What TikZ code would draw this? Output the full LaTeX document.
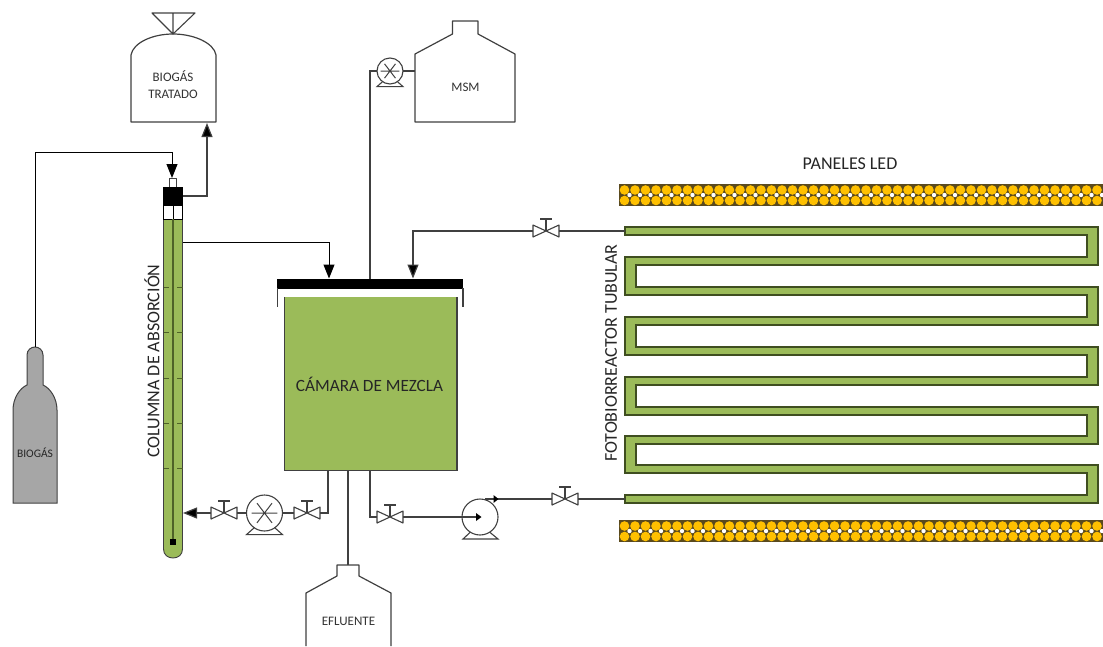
\documentclass[tikz,border=0pt]{standalone}
\usepackage{fontspec}
\setmainfont{Carlito}
\usetikzlibrary{arrows.meta}
\definecolor{algae}{HTML}{9BBB59}
\definecolor{algaedark}{HTML}{4F6228}
\definecolor{ledfill}{HTML}{FFC000}
\definecolor{leddark}{HTML}{5A4A1E}
\definecolor{linegray}{HTML}{404040}
\definecolor{cyl}{HTML}{A6A6A6}
\tikzset{
  x=1pt,y=-1pt,
  pipe/.style={draw=linegray,line width=1.2pt},
  feed/.style={draw=black,line width=1pt},
  tip/.style={-{Triangle[length=14pt,width=11pt,fill=black]}},
  equip/.style={draw=linegray,line width=1.2pt,fill=white,line join=round},
  lbl/.style={text=black!80,inner sep=0pt,font=\fontsize{13}{17}\selectfont,align=center},
  midlbl/.style={text=black!85,inner sep=0pt,font=\fontsize{18}{20}\selectfont},
  camlbl/.style={text=black!85,inner sep=0pt,font=\fontsize{17.2}{20}\selectfont},
  valvebox/.style={inner sep=0pt,minimum width=26pt,minimum height=12pt},
  valve/.pic={
    \draw[draw=linegray,line width=1.1pt,fill=white,line join=round]
      (-13,-6)--(13,6)--(13,-6)--(-13,6)--cycle;
    \draw[draw=linegray,line width=1.1pt] (0,0)--(0,-12) (-6,-12)--(6,-12);
  },
  fanpump/.pic={
    \draw[draw=linegray,line width=1.1pt] (0,0) circle[radius=\pumpr];
    \draw[draw=linegray,line width=1pt]
      (-0.72*\pumpr,0)--(0.72*\pumpr,0)
      (-0.42*\pumpr,-0.55*\pumpr)--(0.42*\pumpr,0.55*\pumpr)
      (-0.42*\pumpr,0.55*\pumpr)--(0.42*\pumpr,-0.55*\pumpr);
    \draw[draw=linegray,line width=1.1pt]
      (-0.55*\pumpr,0.8*\pumpr)--(-\pumpr,1.2*\pumpr)--(\pumpr,1.2*\pumpr)--(0.55*\pumpr,0.8*\pumpr);
  },
  ledbar/.pic={
    \fill[leddark] (0,0) rectangle (484,22);
    \foreach \i in {0,...,45}{
      \fill[white] ({10.5+10.5*\i},11) circle[radius=2.2];
      \fill[ledfill] ({5.5+10.5*\i},6) circle[radius=4.8];
      \fill[ledfill] ({5.5+10.5*\i},16.5) circle[radius=4.8];
    }
  }
}
\newcommand{\pumpr}{13}
\begin{document}
\begin{tikzpicture}
\useasboundingbox (0,0) rectangle (1103,646);

% ---------- photobioreactor serpentine
\coordinate (pbrtop) at (625,231);
\coordinate (pbrbot) at (625,499);
\path[fill=algae,draw=algaedark!80!black,line width=1.2pt,line join=miter]
  (625,227)--(1098,227)--(1098,265)--(636,265)--(636,287)--(1098,287)
  --(1098,325)--(636,325)--(636,347)--(1098,347)--(1098,385)--(636,385)
  --(636,407)--(1098,407)--(1098,444)--(636,444)--(636,465)--(1098,465)
  --(1098,503)--(625,503)--(625,495)--(1087,495)--(1087,473)--(625,473)
  --(625,436)--(1087,436)--(1087,415)--(625,415)--(625,377)--(1087,377)
  --(1087,355)--(625,355)--(625,317)--(1087,317)--(1087,295)--(625,295)
  --(625,257)--(1087,257)--(1087,235)--(625,235)--cycle;

% ---------- LED panels
\pic at (619,184) {ledbar};
\pic at (619,520) {ledbar};
\node[midlbl] (led) at (850,164) {PANELES LED};
\node[midlbl,rotate=90] (pbr) at (611,353) {FOTOBIORREACTOR TUBULAR};

% ---------- absorption column
\path[fill=algae,draw=linegray,line width=0.9pt] (163.5,219)--(163.5,549)
  .. controls (163.5,555) and (168,558) .. (173,558)
  .. controls (178,558) and (182.5,555) .. (182.5,549)--(182.5,219);
\draw[draw=black,line width=0.8pt,fill=white] (163.5,205) rectangle (182.5,219);
\draw[draw=algaedark,line width=1.3pt] (173,219)--(173,542);
\draw[draw=black,line width=0.8pt] (173,205)--(173,219);
\foreach \yy in {287,332,378,423,468}{
  \draw[draw=algaedark,line width=0.8pt] (163.5,\yy)--(169,\yy) (177,\yy)--(182.5,\yy);
}
\fill[black] (170,539) rectangle (176,545);
\draw[equip,line width=1pt] (169,178) rectangle (176,187);
\node[fill=black,inner sep=0pt,minimum width=20pt,minimum height=18pt] (colhead) at (173,196) {};
\coordinate (colin) at (172,178);
\coordinate (colout) at (183,242);
\coordinate (colret) at (183,513);
\node[midlbl,rotate=90] (collbl) at (152,361) {COLUMNA DE ABSORCIÓN};

% ---------- biogas cylinder
\path[draw=linegray,line width=1pt,fill=cyl]
  (13,503)--(13,410) .. controls (13,398) and (20,388) .. (27,385)
  --(27,355) .. controls (27,350) and (31,347) .. (35,347)
  .. controls (39,347) and (43,350) .. (43,355)--(43,385)
  .. controls (50,388) and (57,398) .. (57,410)--(57,503)--cycle;
\coordinate (cyltop) at (35,347);
\node[text=black!85,inner sep=0pt,font=\fontsize{11.5}{12}\selectfont] (biogas) at (35,453) {BIOGÁS};

% ---------- treated biogas tank
\path[equip] (131,122)--(131,55) .. controls (133,43) and (152,34) .. (173,34)
  .. controls (194,34) and (214,43) .. (216,55)--(216,122)--cycle;
\draw[draw=linegray,line width=1.1pt,line join=round] (152,13)--(195,13)--(173,34)--cycle (173,13)--(173,34);
\node[lbl] (tratado) at (173,85) {BIOGÁS\\TRATADO};
\coordinate (tratadoin) at (207,123);

% ---------- MSM tank
\path[equip] (415,122)--(415,54)--(452.5,34)--(452.5,21)--(478,21)--(478,34)--(515,54)--(515,122)--cycle;
\node[lbl] (msm) at (465.5,87) {MSM};
\coordinate (msmout) at (415,71);

% ---------- effluent tank
\path[equip] (306,646)--(306,593)--(337,576)--(337,565)--(359,565)--(359,576)--(391,593)--(391,646);
\node[lbl] (eflu) at (348.5,621) {EFLUENTE};
\coordinate (efluin) at (348,565);

% ---------- mixing chamber
\node[fill=algae,inner sep=0pt,minimum width=172pt,minimum height=173pt] (chamber) at (371,383.5) {};
\draw[draw=linegray,line width=1.2pt] (284.5,297)--(284.5,470.5)--(457,470.5)--(457,297);
\node[fill=black,inner sep=0pt,minimum width=186pt,minimum height=10pt] (lid) at (370,283.5) {};
\draw[draw=linegray,line width=1.2pt] (277.5,288)--(277.5,307) (463,288)--(463,307);
\node[camlbl] (camlbl) at (369.5,384) {CÁMARA DE MEZCLA};
\coordinate (chIn1) at (329,278.5);
\coordinate (chIn2) at (370,278.5);
\coordinate (chIn3) at (413,278.5);
\coordinate (chOut1) at (328,470.5);
\coordinate (chOut2) at (348,470.5);
\coordinate (chOut3) at (370,470.5);

% ---------- pumps
\renewcommand{\pumpr}{13}
\node[inner sep=0pt,minimum size=26pt,circle] (p1) at (390,71) {};
\pic at (p1) {fanpump};
\renewcommand{\pumpr}{18}
\node[inner sep=0pt,minimum size=36pt,circle] (p2) at (264.5,513) {};
\pic at (p2) {fanpump};
\node[inner sep=0pt,minimum size=36pt,circle] (p3) at (480,517) {};
\draw[draw=linegray,line width=1.1pt] (p3) circle[radius=18];
\draw[draw=linegray,line width=1.1pt] (470.5,532)--(463,539)--(498,539)--(489.5,532);

% ---------- valves
\node[valvebox] (v1) at (546,231) {};
\node[valvebox] (v2) at (224,513) {};
\node[valvebox] (v3) at (307,513) {};
\node[valvebox] (v4) at (390,517) {};
\node[valvebox] (v5) at (565,499) {};
\foreach \v in {v1,v2,v3,v4,v5}{\pic at (\v) {valve};}

% ---------- connectors
\draw[feed,tip] (cyltop)--(35,152)-|(colin);
\draw[pipe,tip] (colhead.east)-|(tratadoin);
\draw[feed,tip] (colout)-|(chIn1);
\draw[pipe] (chIn2)|-(p1.west);
\draw[pipe] (p1.east)--(msmout);
\draw[pipe] (pbrtop)--(v1.east);
\draw[pipe,tip] (v1.west)-|(chIn3);
\draw[pipe] (chOut1)|-(v3.east);
\draw[pipe] (v3.west)--(p2.east);
\draw[pipe] (p2.west)--(v2.east);
\draw[pipe,tip] (v2.west)--(colret);
\draw[pipe] (chOut2)--(efluin);
\draw[pipe] (chOut3)|-(v4.west);
\draw[pipe] (v4.east)--(p3.center);
\fill[black] (481.5,517)--(476,513)--(476,521)--cycle;
\draw[pipe] (485,499)--(v5.west);
\fill[black] (498.5,499)--(493.5,495)--(493.5,503)--cycle;
\draw[pipe] (v5.east)--(pbrbot);
\end{tikzpicture}
\end{document}
